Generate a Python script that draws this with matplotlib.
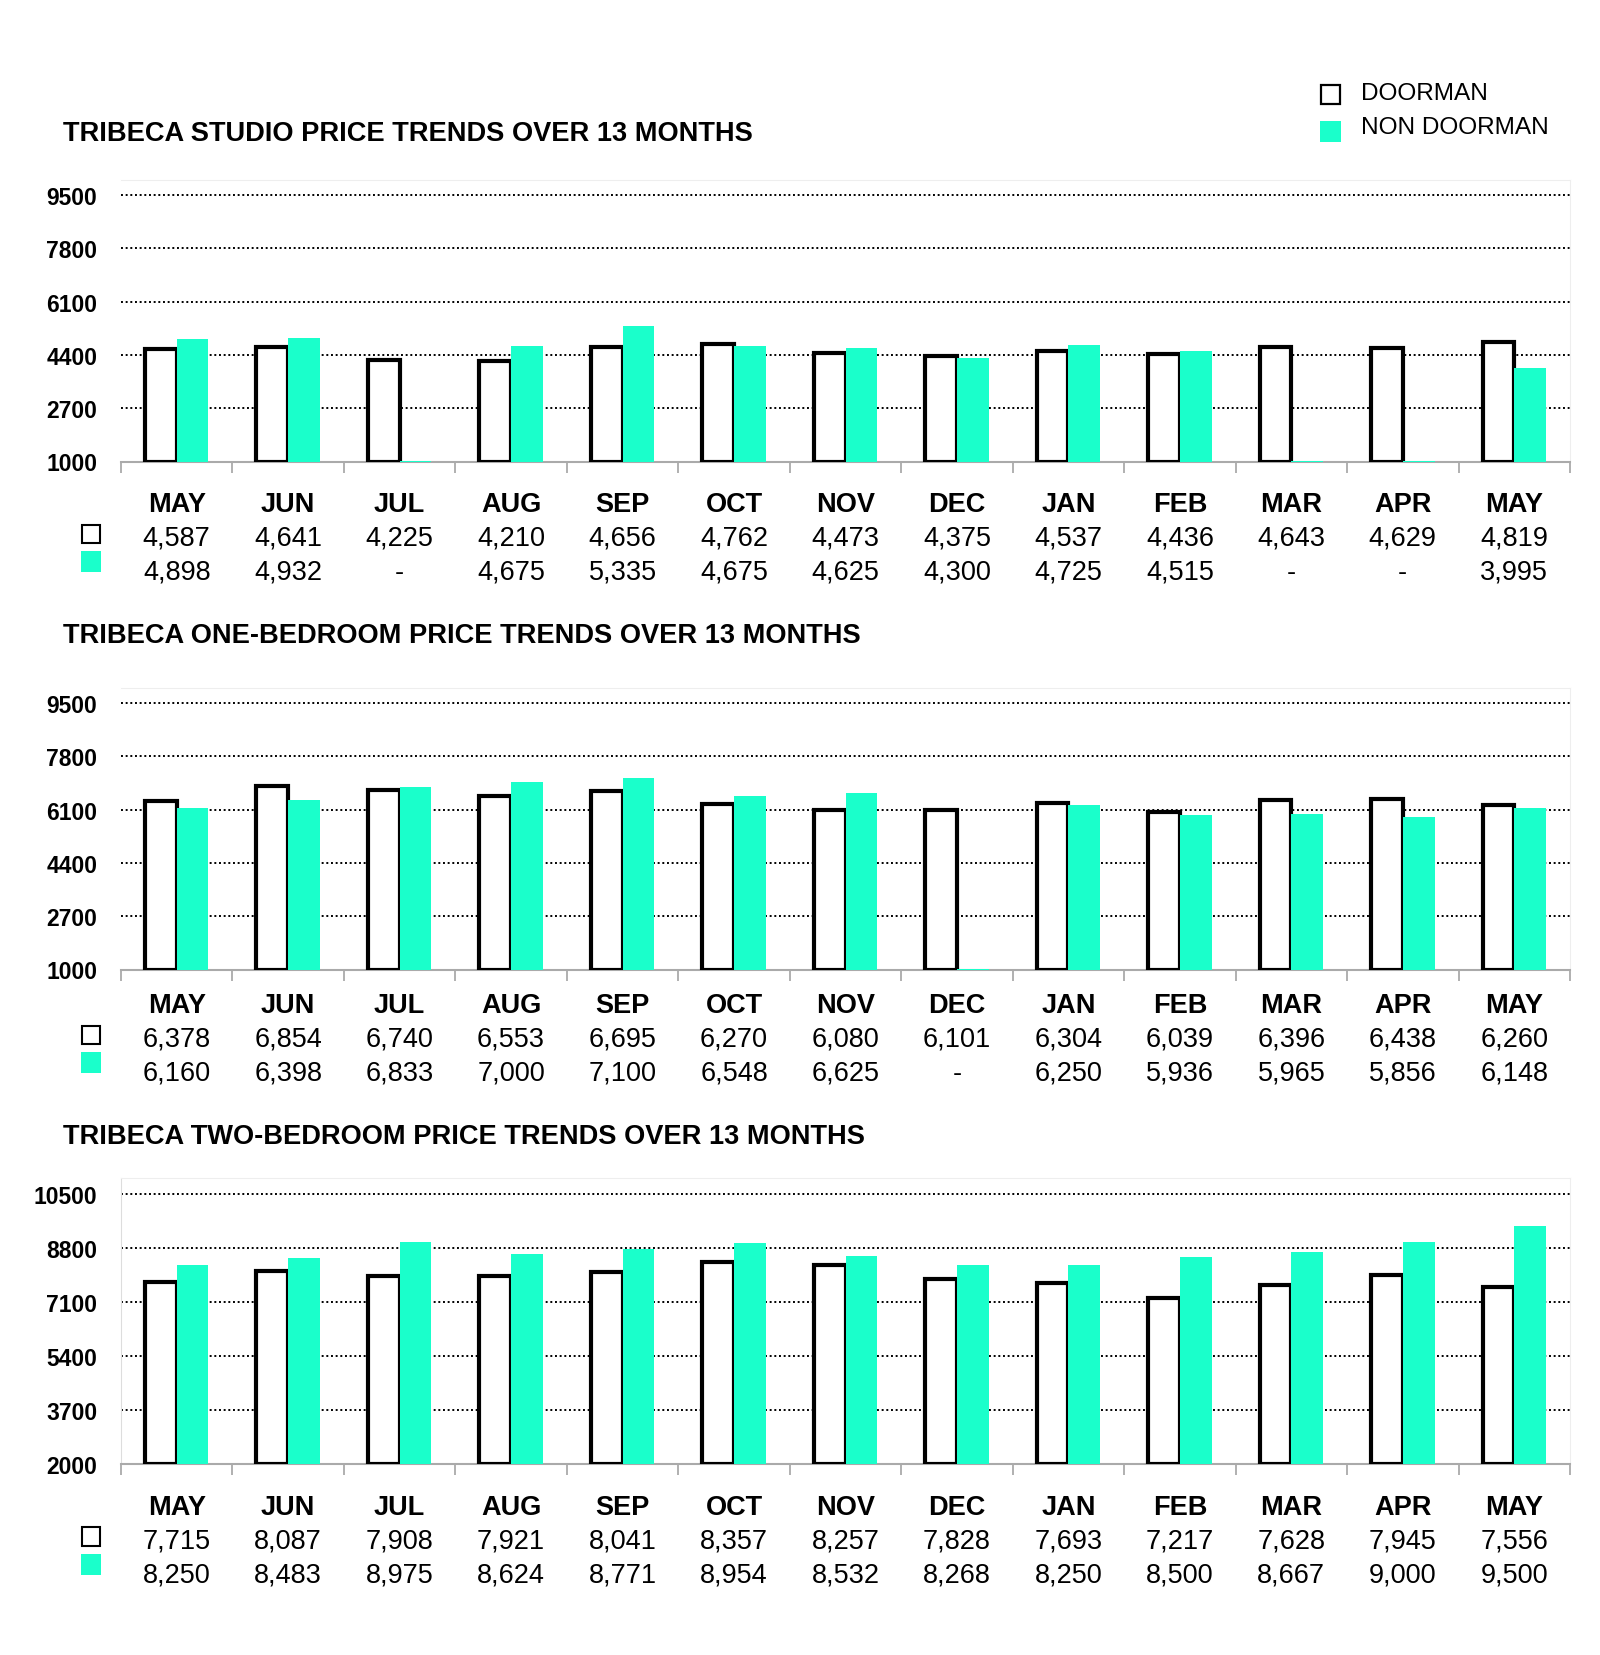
import matplotlib.pyplot as plt
import numpy as np

months = ["MAY", "JUN", "JUL", "AUG", "SEP", "OCT", "NOV", "DEC", "JAN", "FEB", "MAR", "APR", "MAY"]

studio_doorman = [4587, 4641, 4225, 4210, 4656, 4762, 4473, 4375, 4537, 4436, 4643, 4629, 4819]
studio_non = [4898, 4932, None, 4675, 5335, 4675, 4625, 4300, 4725, 4515, None, None, 3995]

one_bed_doorman = [6378, 6854, 6740, 6553, 6695, 6270, 6080, 6101, 6304, 6039, 6396, 6438, 6260]
one_bed_non = [6160, 6398, 6833, 7000, 7100, 6548, 6625, None, 6250, 5936, 5965, 5856, 6148]

two_bed_doorman = [7715, 8087, 7908, 7921, 8041, 8357, 8257, 7828, 7693, 7217, 7628, 7945, 7556]
two_bed_non = [8250, 8483, 8975, 8624, 8771, 8954, 8532, 8268, 8250, 8500, 8667, 9000, 9500]

titles = ["TRIBECA STUDIO PRICE TRENDS OVER 13 MONTHS",
          "TRIBECA ONE-BEDROOM PRICE TRENDS OVER 13 MONTHS",
          "TRIBECA TWO-BEDROOM PRICE TRENDS OVER 13 MONTHS"]
yticks_small = [1000, 2700, 4400, 6100, 7800, 9500]
yticks_large = [2000, 3700, 5400, 7100, 8800, 10500]

TEAL = "#1AFFCB"

plt.rcParams["font.family"] = ["Liberation Sans", "DejaVu Sans"]

W, H = 1600, 1656
fig = plt.figure(figsize=(W / 100, H / 100), dpi=100)


def fx(px):
    return px / W


def fy(py):
    return 1 - py / H


# data, ticks, limits, axes top/bottom px, title y px, table shift px, left border
panels = [
    (studio_doorman, studio_non, yticks_small, (1000, 10000), 180.5, 462.5, 134, 0, False),
    (one_bed_doorman, one_bed_non, yticks_small, (1000, 10000), 688.5, 970.5, 636, -7, False),
    (two_bed_doorman, two_bed_non, yticks_large, (2000, 11000), 1179, 1465, 1137, 0, True),
]

x = np.arange(len(months)) + 0.5
bw = 0.285

for (door, non, yt, ylim, top, bot, ty, sh, left_border), title in zip(panels, titles):
    ax = fig.add_axes([fx(121), fy(bot), fx(1570 - 121), (bot - top) / H])
    ax.set_xlim(0, 13)
    ax.set_ylim(*ylim)
    base = ylim[0]

    door_h = [v - base for v in door]
    # missing months show only a thin sliver on the baseline
    non_h = [(v - base) if v is not None else 12 for v in non]
    ax.bar(x - bw / 2, door_h, bw, bottom=base, facecolor="white",
           edgecolor="black", linewidth=3, zorder=3)
    ax.bar(x + bw / 2, non_h, bw, bottom=base, color=TEAL, linewidth=0, zorder=3)

    for v in yt[1:]:
        ax.axhline(v, color="black", linestyle=(0, (1, 1.4)), linewidth=1.4, zorder=1)

    ax.set_yticks(yt)
    ax.set_yticklabels([str(v) for v in yt], fontweight="bold", fontsize=16.5)
    ax.tick_params(axis="y", length=0, pad=17)
    ax.set_xticks(np.arange(14))
    ax.set_xticklabels([])
    ax.tick_params(axis="x", length=8, color="#aaaaaa", width=1.3)

    for s in ["top", "right"]:
        ax.spines[s].set_color("#eeeeee")
    if left_border:
        ax.spines["left"].set_color("#dddddd")
    else:
        ax.spines["left"].set_visible(False)
    ax.spines["bottom"].set_color("#aaaaaa")
    ax.spines["bottom"].set_linewidth(1.5)

    fig.text(fx(63), fy(ty), title, fontsize=19.6, fontweight="bold", va="center", ha="left")

    # value table under the chart
    for i, m in enumerate(months):
        ax.annotate(m, (x[i], base), xytext=(0, -43 - sh), textcoords="offset pixels",
                    ha="center", va="center", fontsize=19.5, fontweight="bold",
                    annotation_clip=False)
        ax.annotate(f"{door[i]:,}", (x[i], base), xytext=(0, -76.5 - sh),
                    textcoords="offset pixels", ha="center", va="center",
                    fontsize=19.5, annotation_clip=False)
        nv = f"{non[i]:,}" if non[i] is not None else "-"
        ax.annotate(nv, (x[i], base), xytext=(0, -110.5 - sh), textcoords="offset pixels",
                    ha="center", va="center", fontsize=19.5, annotation_clip=False)

    fig.patches.append(plt.Rectangle((fx(82), fy(bot + 81.5 + sh)), fx(18), 18.5 / H,
                                     transform=fig.transFigure, facecolor="white",
                                     edgecolor="black", linewidth=1.5))
    fig.patches.append(plt.Rectangle((fx(81), fy(bot + 110.5 + sh)), fx(20), 21 / H,
                                     transform=fig.transFigure, facecolor=TEAL,
                                     edgecolor="none"))

# legend at top right
fig.patches.append(plt.Rectangle((fx(1321), fy(104.5)), fx(19), 19 / H,
                                 transform=fig.transFigure, facecolor="white",
                                 edgecolor="black", linewidth=1.6))
fig.patches.append(plt.Rectangle((fx(1320), fy(143)), fx(21), 21 / H,
                                 transform=fig.transFigure, facecolor=TEAL,
                                 edgecolor="none"))
fig.text(fx(1361), fy(94), "DOORMAN", fontsize=17.6, va="center", ha="left")
fig.text(fx(1361), fy(128), "NON DOORMAN", fontsize=17.6, va="center", ha="left")

fig.savefig("out.png", dpi=100, facecolor="white")
